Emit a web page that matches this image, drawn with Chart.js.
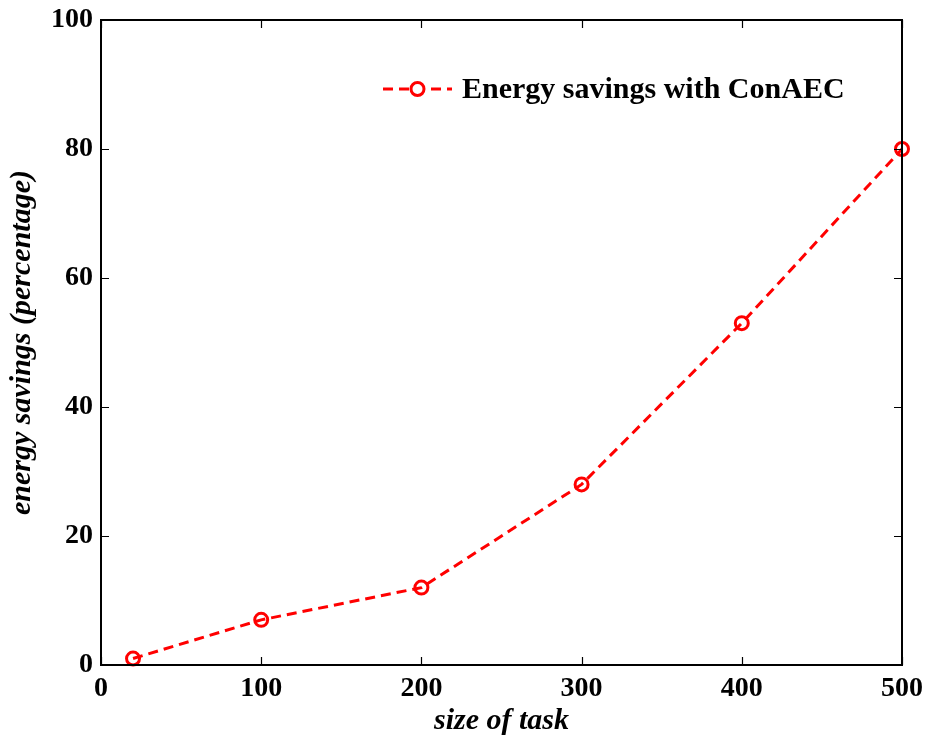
<!DOCTYPE html>
<html>
<head>
<meta charset="utf-8">
<script src="https://cdn.jsdelivr.net/npm/chart.js@4.4.1/dist/chart.umd.min.js"></script>
<style>
html,body{margin:0;padding:0;background:#fff;}
#wrap{width:925px;height:738px;}
</style>
</head>
<body>
<div id="wrap"><canvas id="c" width="925" height="738"></canvas></div>
<script>
const taskSizes = [20, 100, 200, 300, 400, 500];
const energySavings = [1, 7, 12, 28, 53, 80];
const seriesLabel = 'Energy savings with ConAEC';
const xTitle = 'size of task';
const yTitle = 'energy savings (percentage)';

const FONT = "'Liberation Serif', 'DejaVu Serif', serif";

const boxPlugin = {
  id: 'box',
  afterDraw(chart) {
    const {ctx, chartArea: a, scales} = chart;
    ctx.save();
    ctx.strokeStyle = '#000';
    ctx.lineWidth = 1.2;
    const tl = 8;
    scales.x.ticks.forEach(t => {
      const px = Math.round(scales.x.getPixelForValue(t.value)) + 0.5;
      ctx.beginPath();
      ctx.moveTo(px, a.bottom); ctx.lineTo(px, a.bottom - tl);
      ctx.moveTo(px, a.top); ctx.lineTo(px, a.top + tl);
      ctx.stroke();
    });
    scales.y.ticks.forEach(t => {
      const py = Math.round(scales.y.getPixelForValue(t.value)) + 0.5;
      ctx.beginPath();
      ctx.moveTo(a.left, py); ctx.lineTo(a.left + tl, py);
      ctx.moveTo(a.right, py); ctx.lineTo(a.right - tl, py);
      ctx.stroke();
    });
    ctx.lineWidth = 2;
    ctx.strokeRect(a.left, a.top, a.right - a.left, a.bottom - a.top);

    // legend
    const ds = chart.data.datasets[0];
    const ly = 89;
    const lx0 = 383, lx1 = 452;
    ctx.strokeStyle = ds.borderColor;
    ctx.lineWidth = 3;
    ctx.setLineDash([10, 6]);
    ctx.beginPath(); ctx.moveTo(lx0, ly); ctx.lineTo(lx1, ly); ctx.stroke();
    ctx.setLineDash([]);
    ctx.fillStyle = '#fff';
    ctx.beginPath(); ctx.arc((lx0 + lx1) / 2, ly, 6.5, 0, Math.PI * 2); ctx.fill(); ctx.stroke();
    ctx.fillStyle = '#000';
    ctx.font = "bold 30px " + FONT;
    ctx.textBaseline = 'middle';
    ctx.textAlign = 'left';
    ctx.fillText(ds.label, 462, ly + 1);
    ctx.restore();
  }
};

new Chart(document.getElementById('c'), {
  type: 'line',
  data: {
    datasets: [{
      label: seriesLabel,
      data: taskSizes.map((x, i) => ({x: x, y: energySavings[i]})),
      borderColor: '#ff0000',
      backgroundColor: '#ffffff',
      borderWidth: 3,
      borderDash: [10, 6],
      pointRadius: 6.5,
      pointBorderWidth: 3,
      pointBackgroundColor: 'rgba(255,255,255,0)',
      pointBorderColor: '#ff0000',
      tension: 0,
      clip: false
    }]
  },
  options: {
    responsive: false,
    animation: false,
    devicePixelRatio: 1,
    layout: {padding: {left: 0, right: 23, top: 20, bottom: 0}},
    plugins: {legend: {display: false}, tooltip: {enabled: false}},
    scales: {
      x: {
        type: 'linear', min: 0, max: 500,
        ticks: {stepSize: 100, color: '#000', font: {family: FONT, size: 28, weight: 'bold', lineHeight: 1}, padding: 10, maxRotation: 0},
        grid: {display: false, drawTicks: false},
        border: {display: false},
        title: {display: true, text: xTitle, color: '#000', font: {family: FONT, size: 30, weight: 'bold', style: 'italic', lineHeight: 1}, padding: {top: 0, bottom: 2}},
        afterFit(s) { s.height = 73; s.paddingLeft = 0; s.paddingRight = 0; }
      },
      y: {
        type: 'linear', min: 0, max: 100,
        ticks: {stepSize: 20, color: '#000', font: {family: FONT, size: 28, weight: 'bold', lineHeight: 1}, padding: 8},
        grid: {display: false, drawTicks: false},
        border: {display: false},
        title: {display: true, text: yTitle, color: '#000', font: {family: FONT, size: 30, weight: 'bold', style: 'italic', lineHeight: 1}, padding: {top: 7, bottom: 0}},
        afterFit(s) { s.width = 101; s.paddingTop = 0; s.paddingBottom = 0; }
      }
    }
  },
  plugins: [boxPlugin]
});
</script>
</body>
</html>
